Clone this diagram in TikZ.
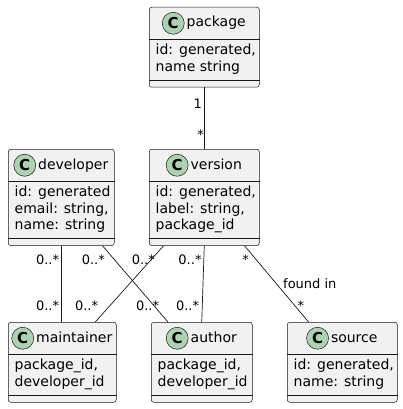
\documentclass[tikz,border=0pt]{standalone}
\usepackage{fontspec}
\setmainfont{DejaVu Sans}
\usepackage{xcolor}
\usepackage{tikz}
\usetikzlibrary{positioning}

\definecolor{boxgray}{HTML}{F1F1F1}
\definecolor{linegray}{HTML}{181818}
\definecolor{spotgreen}{HTML}{ADD1B2}

% class box: name, left, top, width, title, fields, number of field lines
\newcommand{\umlclass}[7]{%
	\node[cls, minimum width=#4pt, minimum height=47.4pt+#7*16.3pt, anchor=north west] (#1) at (#2,#3) {};
	\draw[sep] ([yshift=-32.3pt]#1.north west) -- ([yshift=-32.3pt]#1.north east);
	\draw[sep] ([yshift=7.7pt]#1.south west) -- ([yshift=7.7pt]#1.south east);
	\node[cname] (#1-name) at ([xshift=12pt, yshift=-16.25pt]#1.north) {#5};
	\node[spot, left=2pt of #1-name] (#1-spot) {C};
	\node[fields] (#1-fields) at ([xshift=6.5pt, yshift=-31.6pt-#7*16.3pt]#1.north west) {#6};
}

\begin{document}
\begin{tikzpicture}[
		x=1pt, y=-1pt,
		cls/.style={draw=linegray, fill=boxgray, line width=0.5pt, rounded corners=2.5pt, inner sep=0pt},
		sep/.style={draw=linegray, line width=0.5pt},
		cname/.style={font=\fontsize{14}{16.3}\selectfont, inner sep=0pt, text height=10.5pt, text depth=3pt},
		spot/.style={circle, draw=linegray, fill=spotgreen, line width=0.5pt, minimum size=22pt, inner sep=0pt,
				font=\bfseries\fontsize{15}{15}\selectfont},
		fields/.style={font=\fontsize{14}{16.3}\selectfont, align=left, inner sep=0pt, anchor=base west},
		mult/.style={font=\fontsize{13}{15}\selectfont, inner sep=0pt, anchor=base east},
		arr/.style={draw=linegray, line width=0.7pt}
		]
		\useasboundingbox (0,0) rectangle (403,409);
		\umlclass{package}{149}{7}{110}{package}{id: generated,\\name string}{2}
		\umlclass{developer}{8}{149}{106}{developer}{id: generated\\email: string,\\name: string}{3}
		\umlclass{version}{149}{149}{110}{version}{id: generated,\\label: string,\\package\_id}{3}
		\umlclass{maintainer}{8}{322}{108}{maintainer}{package\_id,\\developer\_id}{2}
		\umlclass{author}{151}{322}{101}{author}{package\_id,\\developer\_id}{2}
		\umlclass{source}{287}{322}{110}{source}{id: generated,\\name: string}{2}
		% connectors
		\draw[arr] (package.south) -- (version.north);
		\draw[arr] (developer.south) -- (developer.south |- maintainer.north);
		\draw[arr] ([xshift=41.3pt]developer.south) -- ([xshift=-33.8pt]author.north);
		\draw[arr] ([xshift=-40.7pt]version.south) -- ([xshift=33pt]maintainer.north);
		\draw[arr] (version.south) -- (author.north);
		\draw[arr] ([xshift=40.3pt]version.south) -- ([xshift=-33.7pt]source.north);
		% multiplicities
		\node[mult] (pv-a) at (202,108.5) {1};
		\node[mult] (pv-b) at (204,139.5) {*};
		\node[mult] (dm-a) at (59.3,264) {0..*};
		\node[mult] (dm-b) at (59.3,310) {0..*};
		\node[mult] (da-a) at (105,264) {0..*};
		\node[mult] (da-b) at (159.3,310) {0..*};
		\node[mult] (vm-a) at (155,264) {0..*};
		\node[mult] (vm-b) at (98.3,310) {0..*};
		\node[mult] (va-a) at (201.7,264) {0..*};
		\node[mult] (va-b) at (199.3,310) {0..*};
		\node[mult] (vs-a) at (249,264) {*};
		\node[mult] (vs-b) at (304.3,310) {*};
		\node[mult, anchor=base west] (vs-label) at (283,288.3) {found in};
	\end{tikzpicture}
\end{document}
